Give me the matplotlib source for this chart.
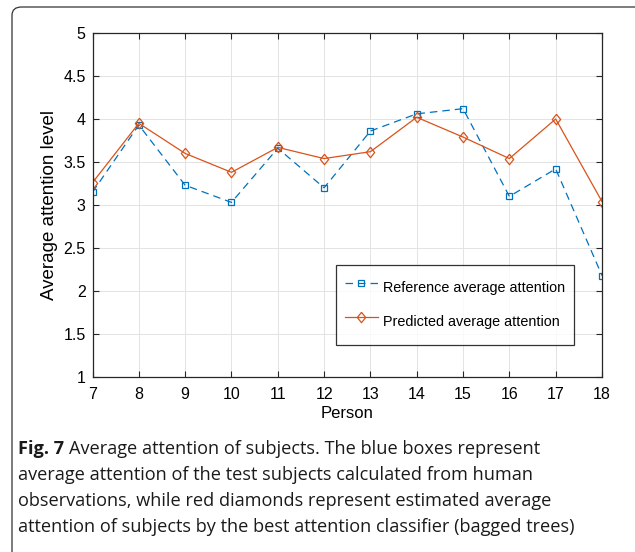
import matplotlib
matplotlib.use('Agg')
import matplotlib.pyplot as plt
from matplotlib.patches import FancyBboxPatch

# datos
persons = [7, 8, 9, 10, 11, 12, 13, 14, 15, 16, 17, 18]
reference = [3.15, 3.93, 3.23, 3.03, 3.66, 3.20, 3.86, 4.06, 4.12, 3.10, 3.42, 2.18]
predicted = [3.26, 3.95, 3.60, 3.38, 3.67, 3.54, 3.62, 4.02, 3.79, 3.54, 4.00, 3.04]
yticks = [1, 1.5, 2, 2.5, 3, 3.5, 4, 4.5, 5]
ytick_labels = ['1', '1.5', '2', '2.5', '3', '3.5', '4', '4.5', '5']

plt.rcParams['font.family'] = 'Liberation Sans'

fig = plt.figure(figsize=(6.35, 5.52), dpi=100)

# marco redondeado de la figura
frame = FancyBboxPatch((12 / 635, -0.1), 1.2, 1.1 - 7 / 552,
                       boxstyle='round,pad=0,rounding_size=0.015',
                       transform=fig.transFigure, fill=False,
                       edgecolor='#333333', linewidth=0.9)
fig.patches.append(frame)

ax = fig.add_axes([92.5 / 635, 1 - 377 / 552, 509.5 / 635, 344 / 552])

# rombo un poco alargado como el de MATLAB
diamond = [(0, 1), (0.8, 0), (0, -1), (-0.8, 0), (0, 1)]

ax.plot(persons, reference, '--', color='#0072BD', linewidth=0.9,
        marker='s', markersize=4.8, markerfacecolor='none', markeredgewidth=0.9,
        dashes=(6, 4), label='Reference average attention')
ax.plot(persons, predicted, '-', color='#D95319', linewidth=0.9,
        marker=diamond, markersize=7.5, markerfacecolor='none', markeredgewidth=0.9,
        label='Predicted average attention')

ax.set_xlim(7, 18)
ax.set_ylim(1, 5)
ax.set_xticks(persons)
ax.set_yticks(yticks)
ax.set_yticklabels(ytick_labels)
ax.tick_params(direction='in', top=True, right=True, labelsize=11.5,
               length=4, width=0.8, color='#262626', labelcolor='#000000')
ax.tick_params(axis='x', pad=7)
ax.tick_params(axis='y', pad=5)
ax.grid(True, color='#e3e3e3', linewidth=0.7)
ax.set_axisbelow(True)
for s in ax.spines.values():
    s.set_linewidth(0.9)
    s.set_color('#262626')

ax.set_xlabel('Person', fontsize=12, labelpad=3)
ax.set_ylabel('Average attention level', fontsize=13.5, labelpad=4)

leg = ax.legend(loc='upper left', bbox_to_anchor=(0.478, 0.326), fontsize=10.4,
                frameon=True, fancybox=False, edgecolor='black',
                handlelength=2.3, handleheight=2.6, handletextpad=0.35,
                labelspacing=0.45, borderpad=0.6, borderaxespad=0)
leg.get_frame().set_linewidth(0.9)
leg.set_zorder(5)

# pie de figura
caption = ['average attention of the test subjects calculated from human',
           'observations, while red diamonds represent estimated average',
           'attention of subjects by the best attention classifier (bagged trees)']
cap_font = ['Open Sans', 'DejaVu Sans']
t = fig.text(18 / 635, 1 - 449 / 552, 'Fig. 7', fontsize=13.1, fontweight='bold',
             family=cap_font, va='center', ha='left', color='#1a1a1a')
fig.canvas.draw()
bb = t.get_window_extent()
fig.text((bb.x1 + 5) / 635, 1 - 449 / 552,
         'Average attention of subjects. The blue boxes represent',
         fontsize=13.1, family=cap_font, va='center', ha='left', color='#1a1a1a')
for i, line in enumerate(caption):
    fig.text(18 / 635, 1 - (475.5 + 25.8 * i) / 552, line, fontsize=13.1,
             family=cap_font, va='center', ha='left', color='#1a1a1a')

fig.savefig('out.png', dpi=100)
